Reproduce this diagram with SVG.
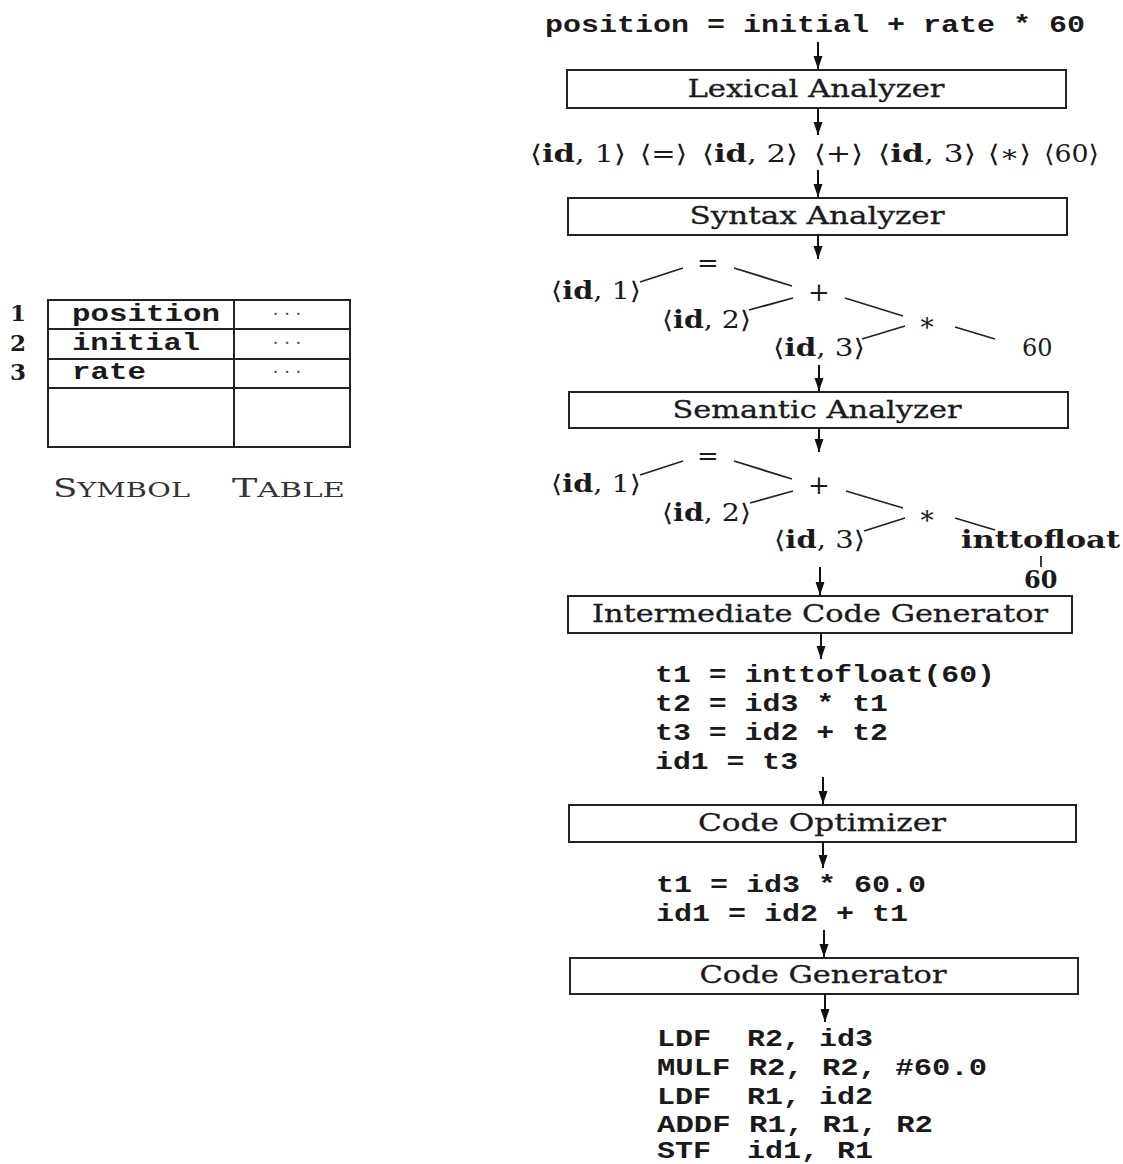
<svg xmlns="http://www.w3.org/2000/svg" width="1123" height="1164" viewBox="0 0 1123 1164">
<defs>
<marker id="ah" viewBox="0 0 13 10" refX="13" refY="5" markerWidth="13" markerHeight="10" markerUnits="userSpaceOnUse" orient="auto">
<path d="M0,0.5 L13,5 L0,9.5 z" fill="#111"/>
</marker>
<style>
.bg{fill:#ffffff}
.box{fill:#ffffff;stroke:#222;stroke-width:2}
.lbl{font-family:"DejaVu Serif","Liberation Serif",serif;font-size:25px;fill:#1a1a1a;text-anchor:middle;stroke:#1a1a1a;stroke-width:0.3}
.mono{font-family:"Liberation Mono","DejaVu Sans Mono",monospace;font-weight:bold;font-size:24px;fill:#1a1a1a}
.tok{font-family:"DejaVu Serif","Liberation Serif",serif;font-size:24px;fill:#1a1a1a}
.tok .b{font-weight:bold}
.op{font-family:"DejaVu Serif","Liberation Serif",serif;font-size:26px;fill:#1a1a1a;text-anchor:middle}
.arr{stroke:#111;stroke-width:2;fill:none;marker-end:url(#ah)}
.edge{stroke:#222;stroke-width:1.8;fill:none}
.tbl{fill:none;stroke:#222;stroke-width:2}
.num{font-family:"DejaVu Serif","Liberation Serif",serif;font-size:23px;font-weight:bold;fill:#1a1a1a}
.dots{font-family:"DejaVu Serif","Liberation Serif",serif;font-size:18px;fill:#555;text-anchor:middle}
.cap{font-family:"DejaVu Serif","Liberation Serif",serif;fill:#333}
</style>
</defs>
<rect class="bg" x="0" y="0" width="1123" height="1164"/>

<g id="symbol-table">
<rect class="tbl" x="48" y="300" width="302" height="147"/>
<line class="tbl" x1="234" y1="300" x2="234" y2="447"/>
<line class="tbl" x1="48" y1="329" x2="350" y2="329"/>
<line class="tbl" x1="48" y1="359" x2="350" y2="359"/>
<line class="tbl" x1="48" y1="388" x2="350" y2="388"/>
<text class="num" x="10" y="321">1</text>
<text class="num" x="10" y="351">2</text>
<text class="num" x="10" y="380">3</text>
<text class="mono" x="72" y="321" textLength="148" lengthAdjust="spacingAndGlyphs">position</text>
<text class="mono" x="72" y="350" textLength="128" lengthAdjust="spacingAndGlyphs">initial</text>
<text class="mono" x="72" y="379" textLength="74" lengthAdjust="spacingAndGlyphs">rate</text>
<text class="dots" x="287" y="320">· · ·</text>
<text class="dots" x="287" y="349">· · ·</text>
<text class="dots" x="287" y="378">· · ·</text>
<text class="cap" x="53" y="497" textLength="137" lengthAdjust="spacingAndGlyphs"><tspan font-size="26">S</tspan><tspan font-size="21">YMBOL</tspan></text>
<text class="cap" x="232" y="497" textLength="113" lengthAdjust="spacingAndGlyphs"><tspan font-size="26">T</tspan><tspan font-size="21">ABLE</tspan></text>
</g>

<g id="source">
<text class="mono" x="545" y="32" textLength="540" lengthAdjust="spacingAndGlyphs">position = initial + rate * 60</text>
</g>

<g id="lexical-analyzer">
<rect class="box" x="567" y="70" width="499" height="38"/>
<text class="lbl" x="816" y="97" textLength="257" lengthAdjust="spacingAndGlyphs">Lexical Analyzer</text>
</g>

<g id="tokens">
<text class="tok" x="530" y="162" textLength="96" lengthAdjust="spacingAndGlyphs">⟨<tspan class="b">id</tspan>, 1⟩</text>
<text class="tok" x="640" y="162" textLength="47" lengthAdjust="spacingAndGlyphs">⟨=⟩</text>
<text class="tok" x="702" y="162" textLength="96" lengthAdjust="spacingAndGlyphs">⟨<tspan class="b">id</tspan>, 2⟩</text>
<text class="tok" x="814" y="162" textLength="49" lengthAdjust="spacingAndGlyphs">⟨+⟩</text>
<text class="tok" x="878" y="162" textLength="98" lengthAdjust="spacingAndGlyphs">⟨<tspan class="b">id</tspan>, 3⟩</text>
<text class="tok" x="988" y="162" textLength="43" lengthAdjust="spacingAndGlyphs">⟨∗⟩</text>
<text class="tok" x="1044" y="162" textLength="55" lengthAdjust="spacingAndGlyphs">⟨60⟩</text>
</g>

<g id="syntax-analyzer">
<rect class="box" x="568" y="198" width="499" height="37"/>
<text class="lbl" x="817" y="224" textLength="255" lengthAdjust="spacingAndGlyphs">Syntax Analyzer</text>
</g>

<g id="syntax-tree">
<text class="op" x="708" y="272">=</text>
<text class="tok" x="551" y="299" textLength="90" lengthAdjust="spacingAndGlyphs">⟨<tspan class="b">id</tspan>, 1⟩</text>
<text class="op" x="819" y="301">+</text>
<text class="tok" x="662" y="328" textLength="89" lengthAdjust="spacingAndGlyphs">⟨<tspan class="b">id</tspan>, 2⟩</text>
<text class="op" x="927" y="331">∗</text>
<text class="tok" x="773" y="356" textLength="92" lengthAdjust="spacingAndGlyphs">⟨<tspan class="b">id</tspan>, 3⟩</text>
<text class="tok" x="1022" y="356">60</text>
<line class="edge" x1="640" y1="282" x2="683" y2="268"/>
<line class="edge" x1="734" y1="268" x2="792" y2="286"/>
<line class="edge" x1="793" y1="298" x2="749" y2="310"/>
<line class="edge" x1="845" y1="298" x2="903" y2="316"/>
<line class="edge" x1="905" y1="326" x2="862" y2="339"/>
<line class="edge" x1="955" y1="327" x2="995" y2="339"/>
</g>

<g id="semantic-analyzer">
<rect class="box" x="569" y="392" width="499" height="36"/>
<text class="lbl" x="817" y="418" textLength="289" lengthAdjust="spacingAndGlyphs">Semantic Analyzer</text>
</g>

<g id="semantic-tree">
<text class="op" x="708" y="465">=</text>
<text class="tok" x="551" y="492" textLength="90" lengthAdjust="spacingAndGlyphs">⟨<tspan class="b">id</tspan>, 1⟩</text>
<text class="op" x="819" y="494">+</text>
<text class="tok" x="662" y="521" textLength="89" lengthAdjust="spacingAndGlyphs">⟨<tspan class="b">id</tspan>, 2⟩</text>
<text class="op" x="927" y="524">∗</text>
<text class="tok" x="774" y="548" textLength="91" lengthAdjust="spacingAndGlyphs">⟨<tspan class="b">id</tspan>, 3⟩</text>
<text class="tok" x="961" y="548" font-weight="bold" textLength="159" lengthAdjust="spacingAndGlyphs">inttofloat</text>
<text class="tok" x="1024" y="588" font-weight="bold">60</text>
<line class="edge" x1="640" y1="475" x2="683" y2="461"/>
<line class="edge" x1="734" y1="461" x2="792" y2="479"/>
<line class="edge" x1="793" y1="491" x2="750" y2="503"/>
<line class="edge" x1="846" y1="491" x2="903" y2="508"/>
<line class="edge" x1="905" y1="518" x2="864" y2="531"/>
<line class="edge" x1="955" y1="518" x2="995" y2="530"/>
<line class="edge" x1="1041" y1="556" x2="1041" y2="567"/>
</g>

<g id="intermediate-code-generator">
<rect class="box" x="568" y="596" width="504" height="37"/>
<text class="lbl" x="820" y="622" textLength="456" lengthAdjust="spacingAndGlyphs">Intermediate Code Generator</text>
</g>

<g id="intermediate-code">
<text class="mono" x="655" y="682" textLength="340" lengthAdjust="spacingAndGlyphs">t1 = inttofloat(60)</text>
<text class="mono" x="655" y="711" textLength="233" lengthAdjust="spacingAndGlyphs">t2 = id3 * t1</text>
<text class="mono" x="655" y="740" textLength="233" lengthAdjust="spacingAndGlyphs">t3 = id2 + t2</text>
<text class="mono" x="655" y="769" textLength="143" lengthAdjust="spacingAndGlyphs">id1 = t3</text>
</g>

<g id="code-optimizer">
<rect class="box" x="569" y="805" width="507" height="37"/>
<text class="lbl" x="822" y="831" textLength="248" lengthAdjust="spacingAndGlyphs">Code Optimizer</text>
</g>

<g id="optimized-code">
<text class="mono" x="656" y="892" textLength="270" lengthAdjust="spacingAndGlyphs">t1 = id3 * 60.0</text>
<text class="mono" x="656" y="921" textLength="252" lengthAdjust="spacingAndGlyphs">id1 = id2 + t1</text>
</g>

<g id="code-generator">
<rect class="box" x="570" y="958" width="508" height="36"/>
<text class="lbl" x="823" y="983" textLength="247" lengthAdjust="spacingAndGlyphs">Code Generator</text>
</g>

<g id="target-code">
<text class="mono" x="657" y="1046" xml:space="preserve" textLength="216" lengthAdjust="spacingAndGlyphs">LDF  R2, id3</text>
<text class="mono" x="657" y="1075" xml:space="preserve" textLength="330" lengthAdjust="spacingAndGlyphs">MULF R2, R2, #60.0</text>
<text class="mono" x="657" y="1104" xml:space="preserve" textLength="216" lengthAdjust="spacingAndGlyphs">LDF  R1, id2</text>
<text class="mono" x="657" y="1132" xml:space="preserve" textLength="276" lengthAdjust="spacingAndGlyphs">ADDF R1, R1, R2</text>
<text class="mono" x="657" y="1158" xml:space="preserve" textLength="216" lengthAdjust="spacingAndGlyphs">STF  id1, R1</text>
</g>

<g id="connectors">
<line class="arr" x1="818" y1="42" x2="818" y2="69"/>
<line class="arr" x1="818" y1="108" x2="818" y2="135"/>
<line class="arr" x1="818" y1="170" x2="818" y2="197"/>
<line class="arr" x1="818" y1="235" x2="818" y2="259"/>
<line class="arr" x1="819" y1="365" x2="819" y2="391"/>
<line class="arr" x1="819" y1="428" x2="819" y2="452"/>
<line class="arr" x1="820" y1="567" x2="820" y2="595"/>
<line class="arr" x1="821" y1="633" x2="821" y2="659"/>
<line class="arr" x1="823" y1="777" x2="823" y2="804"/>
<line class="arr" x1="823" y1="842" x2="823" y2="868"/>
<line class="arr" x1="824" y1="930" x2="824" y2="957"/>
<line class="arr" x1="825" y1="994" x2="825" y2="1022"/>
</g>
</svg>
